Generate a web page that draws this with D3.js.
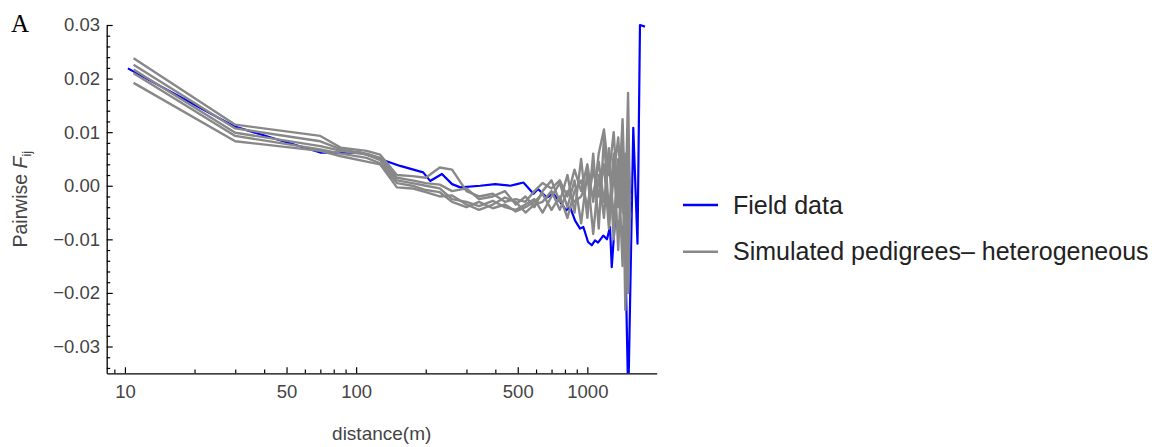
<!DOCTYPE html>
<html>
<head>
<meta charset="utf-8">
<script src="https://cdn.jsdelivr.net/npm/d3@7"></script>
<style>
  body { margin: 0; background: #fff; }
  svg { display: block; }
</style>
</head>
<body>
<svg></svg>
<script>
// field data (distance in m, pairwise Fij)
var fieldDist = [10.3, 29.6, 70, 104, 127, 155, 195, 209, 235, 260, 282, 344, 399, 464, 496, 529,
  585, 612, 668, 713, 775, 809, 842, 885, 930, 961, 1007, 1045, 1080, 1112, 1172, 1216, 1253, 1275,
  1317, 1384, 1455, 1503, 1580, 1648, 1689, 1775];
var fieldF = [0.0219, 0.0111, 0.0062, 0.0062, 0.0050, 0.0037, 0.0025, 0.0009, 0.0022, 0.0003, -0.0003,
  0.0000, 0.0003, 0.0000, 0.0003, 0.0006, -0.0015, -0.0006, -0.0022, -0.0015, -0.0034, -0.0046, -0.0040,
  -0.0065, -0.0080, -0.0077, -0.0105, -0.0111, -0.0102, -0.0106, -0.0093, -0.0100, -0.0077, -0.0152,
  -0.0065, -0.0068, -0.0096, -0.0400, 0.0108, -0.0108, 0.0300, 0.0297];

// simulated pedigrees
var simDist = [10.9, 30, 70, 86, 111, 127, 150, 175, 200, 230, 260, 300, 340, 390, 440, 490, 540, 590,
  640, 700, 760, 820, 880, 940, 1000, 1060, 1120, 1180, 1240, 1300, 1360, 1420, 1460, 1500, 1530];
var sim1 = [0.0238, 0.0114, 0.0093, 0.0071, 0.0065, 0.0058, 0.0020, 0.0018, 0.0015, 0.0034, 0.0030,
  -0.0010, -0.0020, -0.0015, -0.0030, -0.0025, -0.0030, -0.0010, 0.0005, -0.0005, 0.0010, -0.0020,
  0.0030, -0.0010, 0.0040, -0.0030, 0.0060, 0.0105, 0.0020, 0.0100, -0.0040, 0.0124, -0.0050, 0.0173, -0.0060];
var sim2 = [0.0226, 0.0107, 0.0083, 0.0068, 0.0060, 0.0052, 0.0015, 0.0010, 0.0005, 0.0002, -0.0010,
  -0.0005, -0.0025, -0.0020, -0.0010, -0.0035, -0.0020, -0.0040, -0.0010, 0.0010, -0.0030, 0.0020,
  -0.0050, 0.0050, -0.0060, 0.0060, -0.0080, 0.0090, -0.0050, 0.0060, -0.0120, 0.0080, -0.0232, 0.0050, -0.0020];
var sim3 = [0.0217, 0.0099, 0.0074, 0.0065, 0.0058, 0.0048, 0.0010, 0.0005, 0.0000, -0.0005, -0.0025,
  -0.0030, -0.0038, -0.0028, -0.0040, -0.0045, -0.0035, -0.0025, -0.0050, -0.0020, 0.0005, -0.0040,
  0.0010, -0.0070, 0.0025, -0.0090, 0.0020, -0.0060, 0.0070, -0.0100, 0.0050, -0.0150, 0.0060, -0.0110, 0.0010];
var sim4 = [0.0210, 0.0093, 0.0068, 0.0060, 0.0052, 0.0042, 0.0005, 0.0000, -0.0008, -0.0012, -0.0030,
  -0.0040, -0.0030, -0.0042, -0.0035, -0.0048, -0.0040, -0.0030, -0.0015, -0.0045, -0.0020, -0.0060,
  -0.0010, 0.0010, -0.0040, 0.0030, -0.0020, 0.0040, -0.0080, 0.0020, 0.0090, -0.0050, 0.0030, -0.0200, -0.0050];
var sim5 = [0.0192, 0.0083, 0.0065, 0.0055, 0.0045, 0.0040, -0.0003, -0.0005, -0.0012, -0.0020, -0.0018,
  -0.0035, -0.0045, -0.0035, -0.0022, -0.0030, -0.0050, -0.0035, -0.0030, -0.0010, -0.0045, -0.0010,
  -0.0030, -0.0020, 0.0010, -0.0020, 0.0045, -0.0030, 0.0050, -0.0060, 0.0020, 0.0040, -0.0140, 0.0080, -0.0030];
var simSeries = [sim1, sim2, sim3, sim4, sim5];

var xMajor = [10, 50, 100, 500, 1000];
var xMinor = [9, 20, 30, 40, 60, 70, 80, 90, 200, 300, 400, 600, 700, 800, 900];
var yMajor = [0.03, 0.02, 0.01, 0.00, -0.01, -0.02, -0.03];

var legendLabels = ["Field data", "Simulated pedigrees\u2013 heterogeneous"];
var fieldColor = "#0000ff";
var simColor = "#888888";

var svg = d3.select("svg")
    .attr("width", 1159)
    .attr("height", 447);

var plotLeft = 106.7, plotRight = 656.7, plotTop = 25, plotBottom = 373.3;

var x = d3.scaleLog().domain([8.34, 1995]).range([plotLeft, plotRight]);
var y = d3.scaleLinear().domain([-0.035, 0.03]).range([plotBottom, plotTop]);

var sans = "'Liberation Sans', Arial, Helvetica, sans-serif";

// panel letter
svg.append("text")
    .attr("x", 11)
    .attr("y", 31.5)
    .attr("font-family", "'Liberation Serif', 'Times New Roman', serif")
    .attr("font-size", 25)
    .attr("fill", "#000")
    .text("A");

svg.append("clipPath").attr("id", "clip")
  .append("rect")
    .attr("x", plotLeft).attr("y", plotTop - 4)
    .attr("width", plotRight - plotLeft).attr("height", plotBottom - plotTop + 4);

var line = d3.line()
    .x(d => x(d[0]))
    .y(d => y(d[1]));

var plot = svg.append("g").attr("clip-path", "url(#clip)");

plot.append("path")
    .datum(fieldDist.map((d, i) => [d, fieldF[i]]))
    .attr("fill", "none")
    .attr("stroke", fieldColor)
    .attr("stroke-width", 2.2)
    .attr("stroke-linejoin", "round")
    .attr("d", line);

plot.selectAll(".sim")
    .data(simSeries)
    .enter()
    .append("path")
    .attr("class", "sim")
    .attr("fill", "none")
    .attr("stroke", simColor)
    .attr("stroke-width", 2.4)
    .attr("stroke-linejoin", "round")
    .attr("d", s => line(simDist.map((d, i) => [d, s[i]])));

// y axis
var yMinorTicks = d3.range(-34, 31, 2).filter(v => v % 10 !== 0).map(v => v / 1000);

svg.append("g")
    .attr("transform", `translate(${plotLeft},0)`)
    .call(d3.axisLeft(y).tickValues(yMinorTicks).tickSize(-3.5).tickFormat(""))
    .call(g => g.select(".domain").remove())
    .call(g => g.selectAll("line").attr("stroke", "#000").attr("stroke-width", 1.2));

var yAxis = svg.append("g")
    .attr("transform", `translate(${plotLeft},0)`)
    .call(d3.axisLeft(y).tickValues(yMajor).tickSize(-6).tickSizeOuter(0).tickPadding(6.7).tickFormat(d3.format(".2f")));
yAxis.select(".domain").attr("stroke", "#000").attr("stroke-width", 1.3);
yAxis.selectAll("line").attr("stroke", "#000").attr("stroke-width", 1.2);
yAxis.selectAll("text")
    .attr("font-family", sans)
    .attr("font-size", 18.5)
    .attr("fill", "#444");

// x axis
svg.append("g")
    .attr("transform", `translate(0,${plotBottom})`)
    .call(d3.axisBottom(x).tickValues(xMinor).tickSize(-3.8).tickFormat(""))
    .call(g => g.select(".domain").remove())
    .call(g => g.selectAll("line").attr("stroke", "#000").attr("stroke-width", 1.2));

var xAxis = svg.append("g")
    .attr("transform", `translate(0,${plotBottom})`)
    .call(d3.axisBottom(x).tickValues(xMajor).tickSize(-6).tickSizeOuter(0).tickPadding(11.5).tickFormat(d3.format("d")));
xAxis.select(".domain").attr("stroke", "#000").attr("stroke-width", 1.3);
xAxis.selectAll("line").attr("stroke", "#000").attr("stroke-width", 1.2);
xAxis.selectAll("text")
    .attr("font-family", sans)
    .attr("font-size", 18.5)
    .attr("fill", "#444");

// axis titles
svg.append("text")
    .attr("x", (plotLeft + plotRight) / 2)
    .attr("y", 440)
    .attr("text-anchor", "middle")
    .attr("font-family", sans)
    .attr("font-size", 19)
    .attr("fill", "#444")
    .text("distance(m)");

var yTitle = svg.append("text")
    .attr("transform", `translate(26.5,${(plotTop + plotBottom) / 2}) rotate(-90)`)
    .attr("text-anchor", "middle")
    .attr("font-family", sans)
    .attr("font-size", 19.5)
    .attr("fill", "#444");
yTitle.append("tspan").text("Pairwise ");
yTitle.append("tspan").attr("font-style", "italic").text("F");
yTitle.append("tspan").attr("font-size", 13).attr("dy", 4).text("ij");

// legend
var legend = svg.append("g")
    .selectAll("g")
    .data(legendLabels)
    .enter()
    .append("g")
    .attr("transform", (d, i) => `translate(683,${205 + i * 46.7})`);

legend.append("line")
    .attr("x1", 0).attr("x2", 35)
    .attr("stroke", (d, i) => i === 0 ? fieldColor : simColor)
    .attr("stroke-width", 2.4);

legend.append("text")
    .attr("x", 50)
    .attr("y", 8.6)
    .attr("font-family", sans)
    .attr("font-size", 25)
    .attr("fill", "#222")
    .text(d => d);
</script>
</body>
</html>
